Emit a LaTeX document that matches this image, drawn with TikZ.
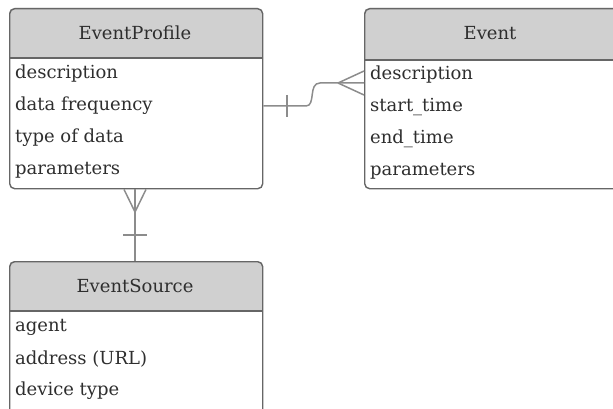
\documentclass[tikz,border=0pt]{standalone}
\usepackage{fontspec}
\setmainfont{DejaVu Serif}
\definecolor{hdr}{HTML}{D0D0D0}
\definecolor{bord}{HTML}{666666}
\definecolor{conn}{HTML}{8C8C8C}
\definecolor{txt}{HTML}{2E2E2E}
\begin{document}
\begin{tikzpicture}[x=1pt,y=-1pt,
  box/.style={draw=bord, line width=1.4pt, rounded corners=5pt},
  attr/.style={anchor=west, text=txt, font=\fontsize{18}{20}\selectfont, inner sep=0pt},
  title/.style={text=txt, font=\fontsize{18}{20}\selectfont, inner sep=0pt},
  link/.style={draw=conn, line width=1.5pt}]
\useasboundingbox (0,0) rectangle (613,409);
\begin{scope}
\clip (0,0) rectangle (613,409);
% EventProfile
\fill[hdr] (9,58) [rounded corners=5pt]-- (9,8) -- (262,8) [sharp corners]-- (262,58) -- cycle;
\draw[bord, line width=1.4pt] (9,58) -- (262,58);
\node[box, minimum width=253pt, minimum height=180pt, anchor=north west] (ep) at (9,8) {};
\node[title] (ept) at (135,33) {EventProfile};
\node[attr] (ep1) at (15,74) {description};
\node[attr] (ep2) at (15,106) {data frequency};
\node[attr] (ep3) at (15,138) {type of data};
\node[attr] (ep4) at (15,170) {parameters};
% Event
\fill[hdr] (364,60) [rounded corners=5pt]-- (364,8) -- (630,8) [sharp corners]-- (630,60) -- cycle;
\draw[bord, line width=1.4pt] (364,60) -- (630,60);
\node[box, minimum width=266pt, minimum height=180pt, anchor=north west] (ev) at (364,8) {};
\node[title] (evt) at (490,33) {Event};
\node[attr] (ev1) at (370,75) {description};
\node[attr] (ev2) at (370,107) {start\_time};
\node[attr] (ev3) at (370,139) {end\_time};
\node[attr] (ev4) at (370,171) {parameters};
% EventSource
\fill[hdr] (9,311) [rounded corners=5pt]-- (9,261) -- (262,261) [sharp corners]-- (262,311) -- cycle;
\draw[bord, line width=1.4pt] (9,311) -- (262,311);
\node[box, minimum width=253pt, minimum height=170pt, anchor=north west] (es) at (9,261) {};
\node[title] (est) at (135,286) {EventSource};
\node[attr] (es1) at (15,327) {agent};
\node[attr] (es2) at (15,359) {address (URL)};
\node[attr] (es3) at (15,391) {device type};
\end{scope}
% connector EventProfile -- Event
\coordinate (a1) at (ep.east |- 0,106);
\coordinate (a2) at (ev.west |- 0,83);
\coordinate (k1) at (306,106);
\coordinate (k2) at (320,83);
\coordinate (cf) at (338,83);
\draw[link] (a1) -- (k1) .. controls (316,106) and (308,83) .. (k2) -- (a2);
\draw[link] (287,95) -- (287,117);
\draw[link] (cf) -- (ev.west |- 0,71);
\draw[link] (cf) -- (ev.west |- 0,95);
% connector EventProfile -- EventSource
\coordinate (b1) at (ep.south -| 135,0);
\coordinate (b2) at (es.north -| 135,0);
\coordinate (cf2) at (135,212);
\draw[link] (b1) -- (b2);
\draw[link] (cf2) -- (ep.south -| 124,0);
\draw[link] (cf2) -- (ep.south -| 146,0);
\draw[link] (123,235) -- (147,235);
\end{tikzpicture}
\end{document}
